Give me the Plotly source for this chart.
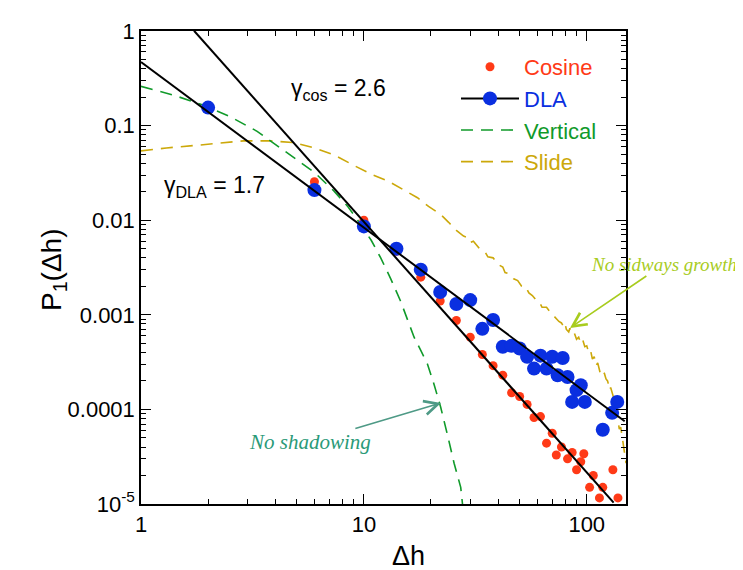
import numpy as np
import plotly.graph_objects as go

# ---------------- data ----------------
dla_x = [2, 6, 10, 14, 18, 22, 26, 30, 34, 38, 42, 46, 50, 54, 58, 62, 66, 70, 74, 78,
         82, 86, 90, 94, 98, 118, 130, 137]
dla_y = [0.155, 0.0208, 0.0086, 0.0050, 0.0030, 0.00174, 0.0013, 0.00143, 0.00071, 0.00088,
         0.00046, 0.00047, 0.00044, 0.00036, 0.00027, 0.00037, 0.00027, 0.00036, 0.00023, 0.00035,
         0.00022, 0.00012, 0.00016, 0.00018, 0.00012, 6.1e-5, 9.2e-5, 0.00012]

cos_x = [6, 10, 14, 18, 22, 26, 30, 34, 38, 42, 46, 50, 54, 58, 62, 66, 70, 73, 77, 82,
         86, 90, 94, 97, 103, 107, 114, 118, 131, 138]
cos_y = [0.0255, 0.0100, 0.0047, 0.0025, 0.0014, 0.00087, 0.00058, 0.00038, 0.00029, 0.00023,
         0.00015, 0.000137, 0.000113, 8.2e-5, 8.4e-5, 4.4e-5, 5.6e-5, 3.3e-5, 4.0e-5, 3.0e-5,
         3.5e-5, 2.3e-5, 2.8e-5, 3.4e-5, 1.5e-5, 2.0e-5, 1.16e-5, 1.5e-5, 2.3e-5, 1.16e-5]

vert_x = [1.0, 1.06, 1.4, 1.88, 2.5, 3.32, 4.23, 4.69, 6.0, 7.35, 8.5, 9.68, 10.8, 11.9,
          13.2, 14.6, 16.2, 16.8, 18.0, 19.3, 20.7, 22.1, 23.8, 25.4, 27.2, 27.7]
vert_y = [0.26, 0.25, 0.21, 0.166, 0.125, 0.087, 0.058, 0.049, 0.032, 0.0203, 0.0138, 0.009,
          0.0061, 0.004, 0.0024, 0.0014, 0.00074, 0.00058, 0.00042, 0.0003, 0.00018, 0.000106,
          5.2e-5, 2.7e-5, 1.5e-5, 1.0e-5]

slide_x = [1.0, 1.3, 1.79, 2.3, 2.89, 3.8, 4.85, 6.0, 7.35, 9.0, 11.0, 12.8, 15.0, 17.4, 19.5,
           22.1, 24, 26, 28, 29, 30, 31, 33, 35, 36, 38, 40, 42, 43, 45, 47, 49, 51, 53, 55,
           57, 59, 61, 63, 66, 69, 71, 73, 75, 77, 79, 80, 81, 83, 84, 86, 88, 90, 92, 94,
           96, 98, 100, 102, 104, 106, 108, 110, 112, 115, 117, 120, 122, 124, 127, 128, 130,
           133, 134, 136, 138, 140, 142, 145, 147, 150]
slide_y = [0.054, 0.058, 0.062, 0.066, 0.069, 0.069, 0.066, 0.058, 0.049, 0.038, 0.030, 0.026,
           0.021, 0.0173, 0.014, 0.0115, 0.0095, 0.0078, 0.0068, 0.0066, 0.0058, 0.0060, 0.0050,
           0.0046, 0.0041, 0.0040, 0.0034, 0.0032, 0.0028, 0.0027, 0.0024, 0.0023, 0.0020,
           0.0020, 0.0017, 0.0016, 0.00145, 0.0014, 0.0012, 0.0012, 0.00105, 0.00098, 0.00092,
           0.00085, 0.00082, 0.00074, 0.00080, 0.00070, 0.00066, 0.00072, 0.00062, 0.00064,
           0.00055, 0.00058, 0.00050, 0.00054, 0.00046, 0.00047, 0.00040, 0.00042, 0.00034,
           0.00036, 0.00029, 0.00031, 0.00024, 0.00026, 0.00024, 0.00021, 0.00020, 0.00016,
           0.00017, 0.00015, 0.000125, 0.00011, 0.000095, 0.000077, 0.000062, 0.000065,
           0.000047, 0.000036, 0.000027]

# power-law fit lines  P = A * dh^(-gamma), drawn over the x span
dla_fit_A, dla_fit_gamma, dla_fit_span = 0.47, 1.75, (1.0, 148.0)
cos_fit_A, cos_fit_gamma, cos_fit_span = 4.3, 2.65, (1.73, 132.0)

x_ticks = [1, 10, 100]
x_ticktext = ["1", "10", "100"]
y_ticks = [1, 0.1, 0.01, 0.001, 0.0001, 1e-5]
y_ticktext = ["1", "0.1", "0.01", "0.001", "0.0001", "10<sup>-5</sup>"]

# ---------------- styling ----------------
RED = "#FF3A17"
BLUE = "#0A2FE0"
GREEN = "#109A2A"
GOLD = "#CCA80A"
FONT = "Liberation Sans, Arial, sans-serif"
SERIF = "Liberation Serif, Times New Roman, serif"

# plot-area geometry in pixels (used only to place annotations)
L, R, T, B = 133, 618, 23, 496
W, H = R - L, B - T

def px(x):
    return (x - L) / W

def py(y):
    return (B - y) / H

def fit_line(A, g, span):
    xs = np.logspace(np.log10(span[0]), np.log10(span[1]), 60)
    return xs, A * xs ** (-g)

fig = go.Figure()

fig.add_trace(go.Scatter(x=slide_x, y=slide_y, mode="lines", name="<span style='color:%s'>Slide</span>" % GOLD,
                         line=dict(color=GOLD, width=1.6, dash="12px,8px"), legendrank=4))
fig.add_trace(go.Scatter(x=vert_x, y=vert_y, mode="lines", name="<span style='color:%s'>Vertical</span>" % GREEN,
                         line=dict(color=GREEN, width=1.6, dash="12px,8px"), legendrank=3))
fig.add_trace(go.Scatter(x=cos_x, y=cos_y, mode="markers", name="<span style='color:%s'>Cosine</span>" % RED,
                         marker=dict(color=RED, size=9), legendrank=1))
fig.add_trace(go.Scatter(x=dla_x, y=dla_y, mode="markers", showlegend=False,
                         marker=dict(color=BLUE, size=14)))
fx, fy = fit_line(dla_fit_A, dla_fit_gamma, dla_fit_span)
fig.add_trace(go.Scatter(x=fx, y=fy, mode="lines", showlegend=False,
                         line=dict(color="black", width=2)))
fx, fy = fit_line(cos_fit_A, cos_fit_gamma, cos_fit_span)
fig.add_trace(go.Scatter(x=fx, y=fy, mode="lines", showlegend=False,
                         line=dict(color="black", width=2)))
# legend entry for DLA (line + marker)
fig.add_trace(go.Scatter(x=[None], y=[None], mode="lines+markers",
                         name="<span style='color:%s'>DLA</span>" % BLUE,
                         line=dict(color="black", width=2), marker=dict(color=BLUE, size=14),
                         legendrank=2))

def decade_minors(lo, hi):
    return [k * 10.0 ** d for d in range(lo, hi) for k in range(2, 10)]

axis_common = dict(type="log", showline=True, linecolor="black", linewidth=1.5, mirror="allticks",
                   ticks="inside", ticklen=10, tickwidth=1.3, tickcolor="black",
                   showgrid=False, zeroline=False,
                   tickfont=dict(family=FONT, size=22, color="black"))

fig.update_xaxes(**axis_common, range=[0, np.log10(150)], tickvals=x_ticks, ticktext=x_ticktext,
                 minor=dict(ticks="inside", ticklen=5, tickwidth=1.2, tickcolor="black",
                            tickvals=decade_minors(0, 3), showgrid=False))
fig.update_yaxes(**axis_common, range=[-5, 0], tickvals=y_ticks, ticktext=y_ticktext,
                 minor=dict(ticks="inside", ticklen=5, tickwidth=1.2, tickcolor="black",
                            tickvals=decade_minors(-5, 0), showgrid=False))

fig.update_layout(
    width=743, height=570,
    margin=dict(l=L, r=743 - R, t=T, b=570 - B),
    paper_bgcolor="white", plot_bgcolor="white",
    font=dict(family=FONT, color="black"),
    showlegend=True,
    legend=dict(x=px(448), y=py(38), xanchor="left", yanchor="top", bgcolor="rgba(0,0,0,0)",
                font=dict(family=FONT, size=22), itemwidth=58, tracegroupgap=0,
                traceorder="normal"),
    annotations=[
        dict(text="γ<sub>cos</sub> = 2.6", xref="paper", yref="paper", x=px(281), y=py(82),
             xanchor="left", yanchor="middle", showarrow=False, font=dict(family=FONT, size=23)),
        dict(text="γ<sub>DLA</sub> = 1.7", xref="paper", yref="paper", x=px(154), y=py(178),
             xanchor="left", yanchor="middle", showarrow=False, font=dict(family=FONT, size=23)),
        dict(text="Δh", xref="paper", yref="paper", x=px(400), y=py(548), xanchor="center",
             yanchor="middle", showarrow=False, font=dict(family=FONT, size=27)),
        dict(text="P<sub>1</sub>(Δh)", xref="paper", yref="paper", x=px(45), y=py(262),
             xanchor="center", yanchor="middle", textangle=-90, showarrow=False,
             font=dict(family=FONT, size=28)),
        # arrow tip at (x, y); text placed at pixel offset (ax, ay) from the tip
        dict(text="<i>No shadowing</i>", xref="paper", yref="paper",
             x=px(433), y=py(395), ax=302 - 433, ay=434 - 395,
             font=dict(family=SERIF, size=21, color="#2A9A78"),
             showarrow=True, arrowhead=5, arrowsize=1.7, arrowwidth=1.6,
             arrowcolor="#4E9A86", standoff=0),
        dict(text="<i>No sidways growth</i>", xref="paper", yref="paper",
             x=px(562), y=py(320), ax=656 - 562, ay=256 - 320,
             font=dict(family=SERIF, size=19, color="#A8CC1E"),
             showarrow=True, arrowhead=5, arrowsize=1.7, arrowwidth=1.6,
             arrowcolor="#A8CC1E", standoff=0),
    ],
)

fig.write_html("out.html")
